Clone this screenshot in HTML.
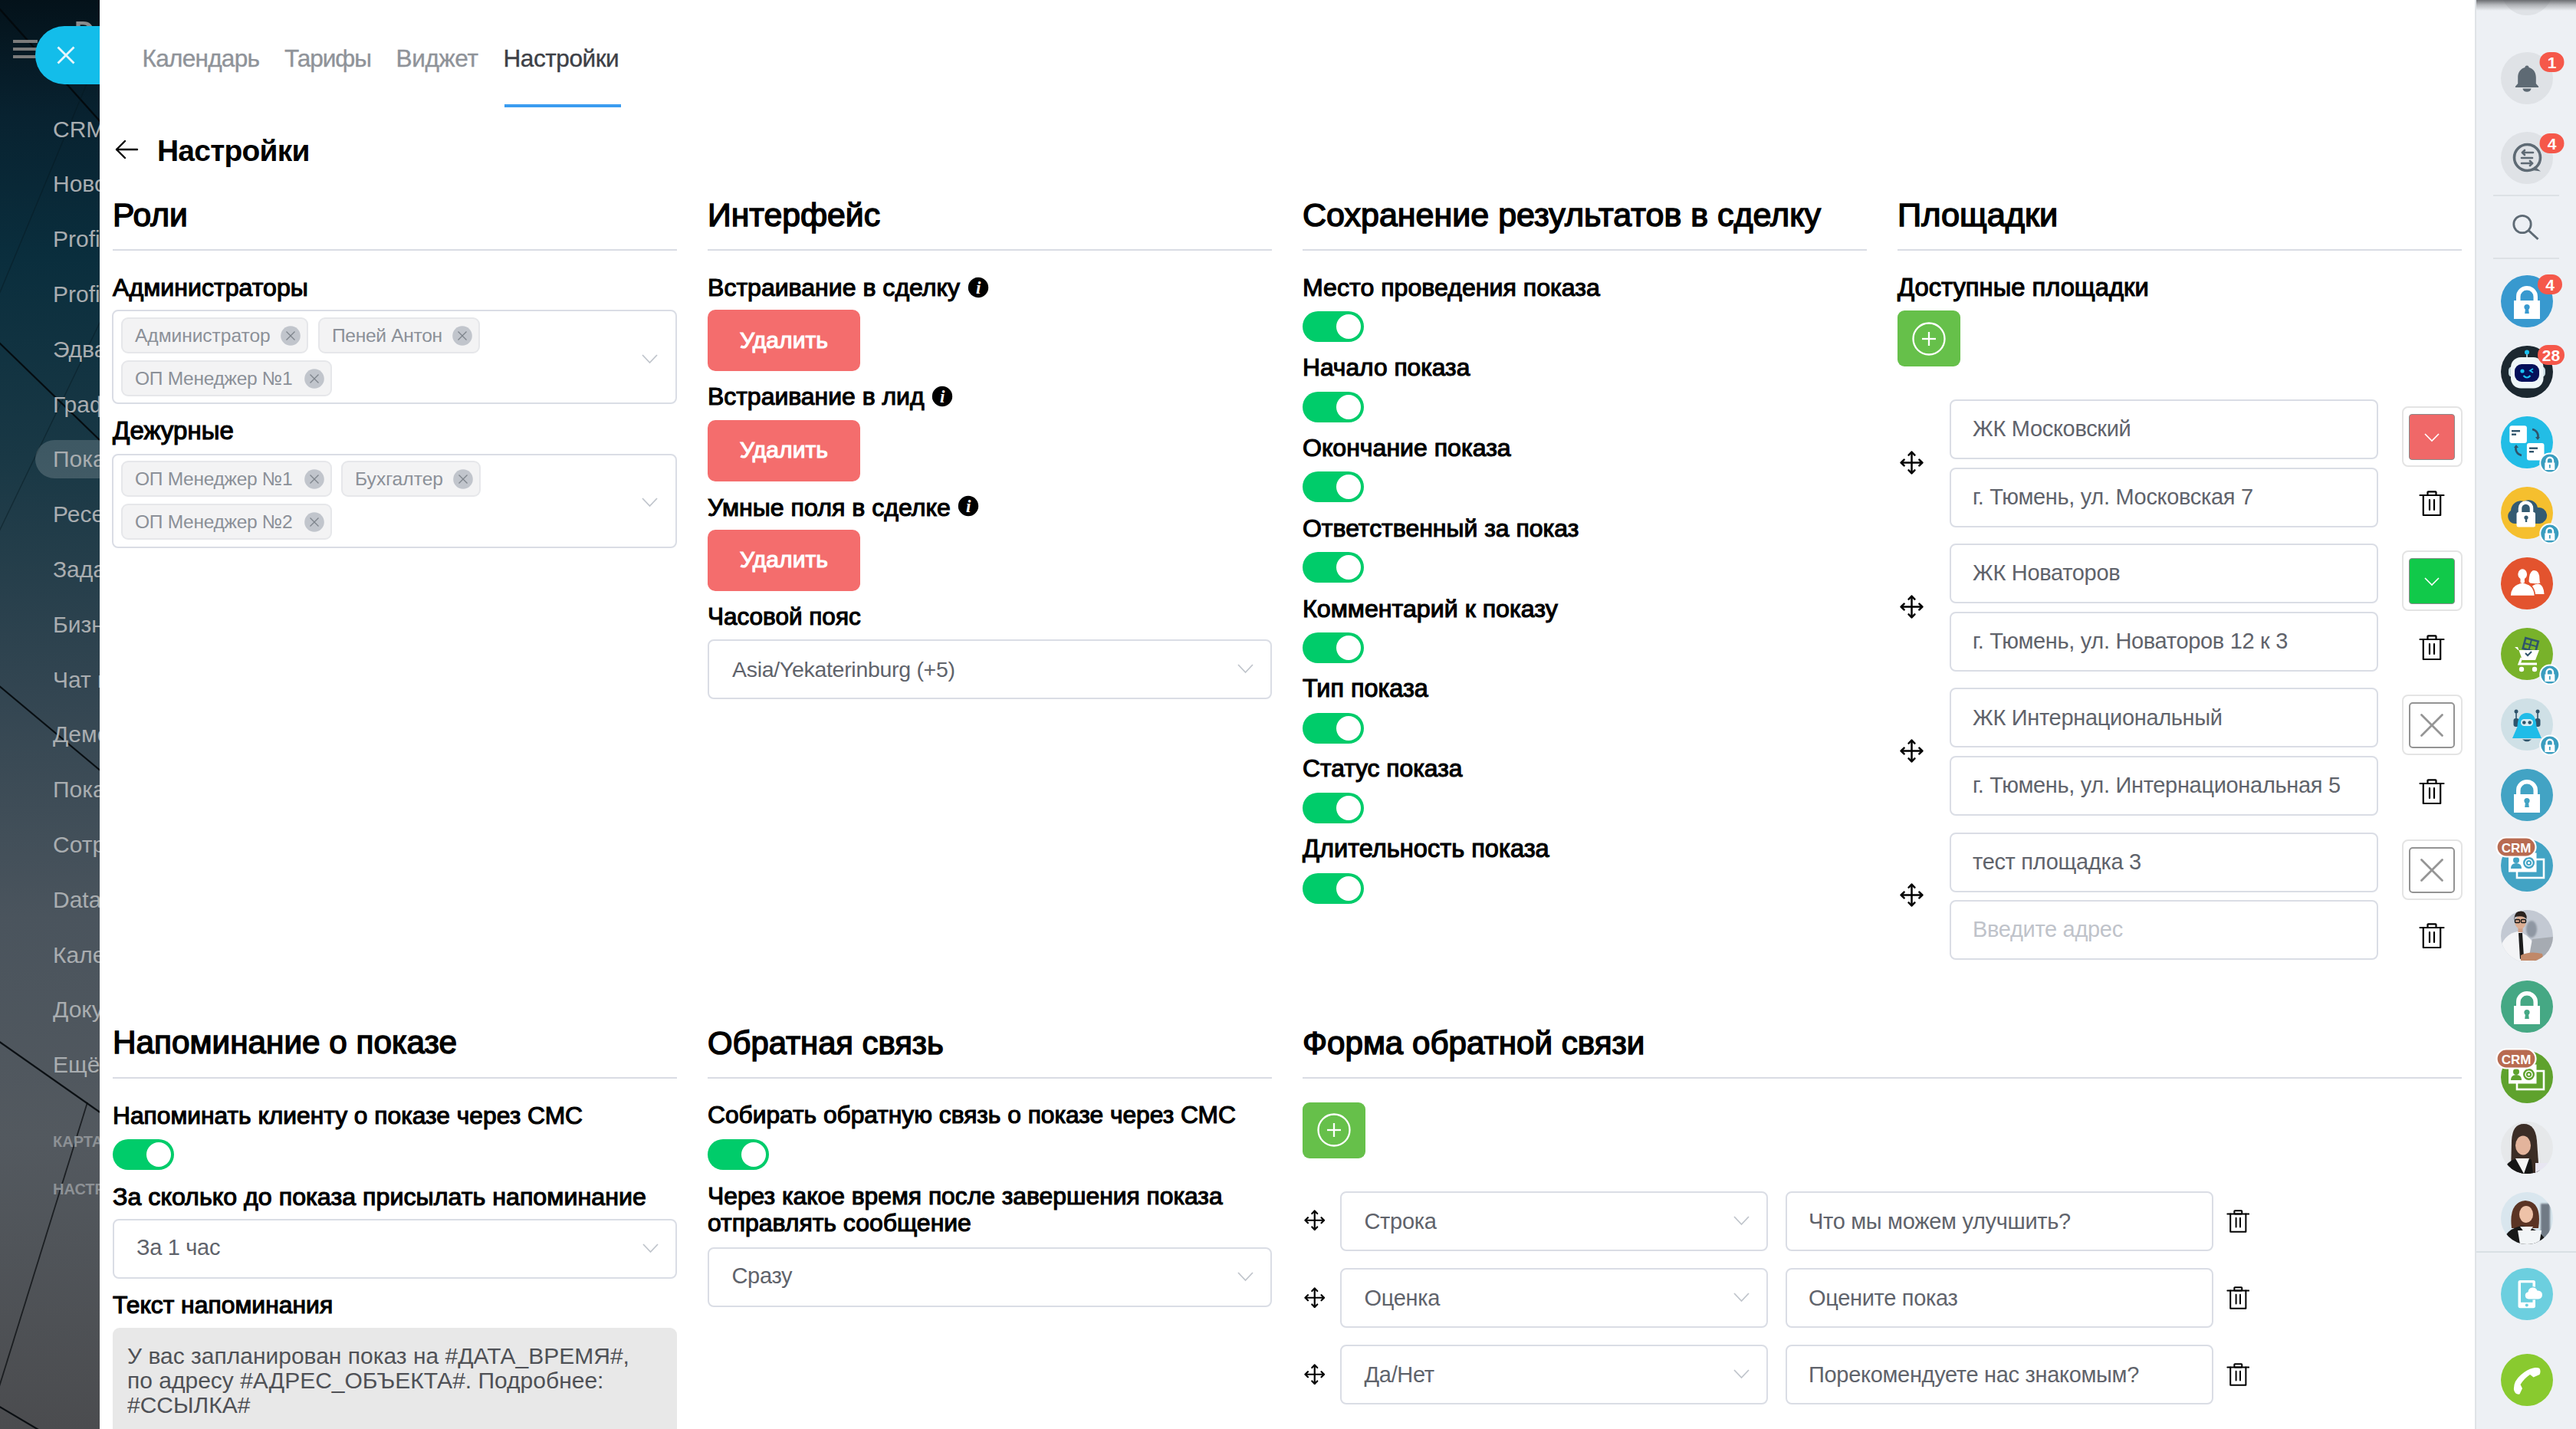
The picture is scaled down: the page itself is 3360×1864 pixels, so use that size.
<!DOCTYPE html>
<html><head><meta charset="utf-8"><title>Настройки</title><style>
html,body{margin:0;padding:0;}
body{width:3360px;height:1864px;overflow:hidden;position:relative;background:#fff;font-family:"Liberation Sans",sans-serif;}
.a{position:absolute;}
.t{position:absolute;white-space:nowrap;line-height:1;}
</style></head><body>
<div class="a" style="left:0;top:0;width:130px;height:1864px;overflow:hidden;background:linear-gradient(180deg,#04121a 0%,#082230 8%,#0a2e3d 18%,#193845 32%,#324551 48%,#4a545d 64%,#53595f 80%,#4b4c4f 100%)">
<svg class="a" style="left:0;top:0" width="130" height="1864"><g stroke="#03080b" stroke-width="2.2" fill="none" opacity="0.9"><line x1="-2" y1="10" x2="132" y2="160"/><line x1="-2" y1="446" x2="132" y2="576"/><line x1="-2" y1="894" x2="132" y2="1006"/><line x1="-2" y1="1358" x2="132" y2="1452"/><line x1="-2" y1="1834" x2="52" y2="1866"/></g><line x1="114" y1="1438" x2="-2" y2="1812" stroke="#0a0d10" stroke-width="1.8" opacity="0.75"/><g stroke="#071820" stroke-width="1.4" fill="none" opacity="0.45"><line x1="132" y1="64" x2="-2" y2="386"/><line x1="132" y1="417" x2="-2" y2="695"/></g></svg>
<div class="a" style="left:17px;top:52px;width:32px;height:4px;background:#7b7b7b"></div>
<div class="a" style="left:17px;top:62px;width:32px;height:4px;background:#7b7b7b"></div>
<div class="a" style="left:17px;top:72px;width:32px;height:4px;background:#7b7b7b"></div>
<div class="t" style="left:97px;top:23.5px;font-size:36px;font-weight:700;color:#8a8c8e;filter:blur(0.7px)">D</div>
<div class="a" style="left:46px;top:574px;width:120px;height:50px;border-radius:25px;background:rgba(255,255,255,0.17)"></div>
<div class="t" style="left:69px;top:153.6px;font-size:30px;font-weight:400;color:#a9adb0;">CRM</div>
<div class="t" style="left:69px;top:225.4px;font-size:30px;font-weight:400;color:#a9adb0;">Новости</div>
<div class="t" style="left:69px;top:297.2px;font-size:30px;font-weight:400;color:#a9adb0;">Profit</div>
<div class="t" style="left:69px;top:369.0px;font-size:30px;font-weight:400;color:#a9adb0;">Profit</div>
<div class="t" style="left:69px;top:440.8px;font-size:30px;font-weight:400;color:#a9adb0;">Эдвайзер</div>
<div class="t" style="left:69px;top:512.6px;font-size:30px;font-weight:400;color:#a9adb0;">График</div>
<div class="t" style="left:69px;top:584.4px;font-size:30px;font-weight:400;color:#a9adb0;">Показы</div>
<div class="t" style="left:69px;top:656.2px;font-size:30px;font-weight:400;color:#a9adb0;">Ресепшн</div>
<div class="t" style="left:69px;top:728.0px;font-size:30px;font-weight:400;color:#a9adb0;">Задачи</div>
<div class="t" style="left:69px;top:799.8px;font-size:30px;font-weight:400;color:#a9adb0;">Бизнес</div>
<div class="t" style="left:69px;top:871.6px;font-size:30px;font-weight:400;color:#a9adb0;">Чат и звонки</div>
<div class="t" style="left:69px;top:943.4px;font-size:30px;font-weight:400;color:#a9adb0;">Демо</div>
<div class="t" style="left:69px;top:1015.2px;font-size:30px;font-weight:400;color:#a9adb0;">Показы</div>
<div class="t" style="left:69px;top:1087.0px;font-size:30px;font-weight:400;color:#a9adb0;">Сотрудники</div>
<div class="t" style="left:69px;top:1158.8px;font-size:30px;font-weight:400;color:#a9adb0;">Data</div>
<div class="t" style="left:69px;top:1230.6px;font-size:30px;font-weight:400;color:#a9adb0;">Календарь</div>
<div class="t" style="left:69px;top:1302.4px;font-size:30px;font-weight:400;color:#a9adb0;">Документы</div>
<div class="t" style="left:69px;top:1374.2px;font-size:30px;font-weight:400;color:#a9adb0;">Ещё</div>
<div class="t" style="left:69px;top:1479.1px;font-size:20px;font-weight:700;color:#8d9195;">КАРТА</div>
<div class="t" style="left:69px;top:1541.1px;font-size:20px;font-weight:700;color:#8d9195;">НАСТРОЙКИ</div>
</div>
<div class="a" style="left:46px;top:34px;width:84px;height:76px;border-radius:38px 0 0 38px;background:#13bdea"></div>
<svg class="a" style="left:74px;top:60px" width="24" height="24"><g stroke="#e6f6fb" stroke-width="2.8"><line x1="1.5" y1="1.5" x2="22.5" y2="22.5"/><line x1="22.5" y1="1.5" x2="1.5" y2="22.5"/></g></svg>
<div class="t" style="left:185.5px;top:60.6px;font-size:31.6px;font-weight:400;color:#8f9399;letter-spacing:-0.75px;-webkit-text-stroke:0.35px #8f9399">Календарь</div>
<div class="t" style="left:371px;top:60.6px;font-size:31.6px;font-weight:400;color:#8f9399;letter-spacing:-1.1px;-webkit-text-stroke:0.35px #8f9399">Тарифы</div>
<div class="t" style="left:516.5px;top:60.6px;font-size:31.6px;font-weight:400;color:#8f9399;letter-spacing:-0.37px;-webkit-text-stroke:0.35px #8f9399">Виджет</div>
<div class="t" style="left:656.5px;top:60.6px;font-size:31.6px;font-weight:400;color:#3d4046;letter-spacing:-0.46px;-webkit-text-stroke:0.35px #3d4046">Настройки</div>
<div class="a" style="left:658px;top:136px;width:152px;height:4px;background:#3a9cf0"></div>
<svg class="a" style="left:148px;top:181px" width="34" height="28"><g fill="none" stroke="#000" stroke-width="2.4" stroke-linecap="round" stroke-linejoin="round"><line x1="4" y1="14" x2="31" y2="14"/><polyline points="15,3 4,14 15,25"/></g></svg>
<div class="t" style="left:205px;top:177.0px;font-size:39px;font-weight:700;color:#000;letter-spacing:-0.8px">Настройки</div>
<div class="t" style="left:147px;top:259.3px;font-size:42.54px;font-weight:400;color:#000;-webkit-text-stroke:1.5px #000;">Роли</div>
<div class="t" style="left:923px;top:259.1px;font-size:42.72px;font-weight:400;color:#000;-webkit-text-stroke:1.5px #000;">Интерфейс</div>
<div class="t" style="left:1699px;top:258.9px;font-size:43.02px;font-weight:400;color:#000;-webkit-text-stroke:1.5px #000;">Сохранение результатов в сделку</div>
<div class="t" style="left:2475px;top:258.6px;font-size:43.35px;font-weight:400;color:#000;-webkit-text-stroke:1.5px #000;">Площадки</div>
<div class="a" style="left:147px;top:325px;width:736px;height:2px;background:#d9dce4"></div>
<div class="a" style="left:923px;top:325px;width:736px;height:2px;background:#d9dce4"></div>
<div class="a" style="left:1699px;top:325px;width:736px;height:2px;background:#d9dce4"></div>
<div class="a" style="left:2475px;top:325px;width:736px;height:2px;background:#d9dce4"></div>
<div class="t" style="left:147px;top:359.1px;font-size:32.14px;font-weight:400;color:#000;-webkit-text-stroke:1.15px #000;">Администраторы</div>
<div class="a" style="left:146px;top:404px;width:737px;height:123px;box-sizing:border-box;border:2px solid #dadde5;border-radius:8px;background:#fff"></div>
<svg class="a" style="left:836.0px;top:460.5px" width="23" height="14"><polyline points="2,2 11.5,12 21,2" fill="none" stroke="#c0c5cc" stroke-width="1.8"/></svg>
<div class="a" style="left:158px;top:414.3px;width:244px;height:47px;box-sizing:border-box;border:2px solid #e6e7ea;border-radius:9px;background:#f3f3f4"></div>
<div class="t" style="left:176px;top:425.8px;font-size:24.6px;font-weight:400;color:#8b9098;letter-spacing:-0.06px">Администратор</div>
<svg class="a" style="left:366px;top:424.9px" width="26" height="26" viewBox="0 0 26 26"><circle cx="13" cy="13" r="12.8" fill="#c1c5cc"/><g stroke="#7e848c" stroke-width="1.3"><line x1="7.5" y1="7.5" x2="18.5" y2="18.5"/><line x1="18.5" y1="7.5" x2="7.5" y2="18.5"/></g></svg>
<div class="a" style="left:415px;top:414.3px;width:211px;height:47px;box-sizing:border-box;border:2px solid #e6e7ea;border-radius:9px;background:#f3f3f4"></div>
<div class="t" style="left:433px;top:425.8px;font-size:24.6px;font-weight:400;color:#8b9098;letter-spacing:-0.33px">Пеней Антон</div>
<svg class="a" style="left:590px;top:424.9px" width="26" height="26" viewBox="0 0 26 26"><circle cx="13" cy="13" r="12.8" fill="#c1c5cc"/><g stroke="#7e848c" stroke-width="1.3"><line x1="7.5" y1="7.5" x2="18.5" y2="18.5"/><line x1="18.5" y1="7.5" x2="7.5" y2="18.5"/></g></svg>
<div class="a" style="left:158px;top:470.3px;width:275px;height:47px;box-sizing:border-box;border:2px solid #e6e7ea;border-radius:9px;background:#f3f3f4"></div>
<div class="t" style="left:176px;top:481.8px;font-size:24.6px;font-weight:400;color:#8b9098;letter-spacing:-0.33px">ОП Менеджер №1</div>
<svg class="a" style="left:397px;top:480.9px" width="26" height="26" viewBox="0 0 26 26"><circle cx="13" cy="13" r="12.8" fill="#c1c5cc"/><g stroke="#7e848c" stroke-width="1.3"><line x1="7.5" y1="7.5" x2="18.5" y2="18.5"/><line x1="18.5" y1="7.5" x2="7.5" y2="18.5"/></g></svg>
<div class="t" style="left:147px;top:544.6px;font-size:33.05px;font-weight:400;color:#000;-webkit-text-stroke:1.15px #000;">Дежурные</div>
<div class="a" style="left:146px;top:591.5px;width:737px;height:123px;box-sizing:border-box;border:2px solid #dadde5;border-radius:8px;background:#fff"></div>
<svg class="a" style="left:836.0px;top:647.5px" width="23" height="14"><polyline points="2,2 11.5,12 21,2" fill="none" stroke="#c0c5cc" stroke-width="1.8"/></svg>
<div class="a" style="left:158px;top:601.3px;width:275px;height:47px;box-sizing:border-box;border:2px solid #e6e7ea;border-radius:9px;background:#f3f3f4"></div>
<div class="t" style="left:176px;top:612.8px;font-size:24.6px;font-weight:400;color:#8b9098;letter-spacing:-0.33px">ОП Менеджер №1</div>
<svg class="a" style="left:397px;top:611.9px" width="26" height="26" viewBox="0 0 26 26"><circle cx="13" cy="13" r="12.8" fill="#c1c5cc"/><g stroke="#7e848c" stroke-width="1.3"><line x1="7.5" y1="7.5" x2="18.5" y2="18.5"/><line x1="18.5" y1="7.5" x2="7.5" y2="18.5"/></g></svg>
<div class="a" style="left:445px;top:601.3px;width:182px;height:47px;box-sizing:border-box;border:2px solid #e6e7ea;border-radius:9px;background:#f3f3f4"></div>
<div class="t" style="left:463px;top:612.8px;font-size:24.6px;font-weight:400;color:#8b9098;letter-spacing:0px">Бухгалтер</div>
<svg class="a" style="left:591px;top:611.9px" width="26" height="26" viewBox="0 0 26 26"><circle cx="13" cy="13" r="12.8" fill="#c1c5cc"/><g stroke="#7e848c" stroke-width="1.3"><line x1="7.5" y1="7.5" x2="18.5" y2="18.5"/><line x1="18.5" y1="7.5" x2="7.5" y2="18.5"/></g></svg>
<div class="a" style="left:158px;top:657.3px;width:275px;height:47px;box-sizing:border-box;border:2px solid #e6e7ea;border-radius:9px;background:#f3f3f4"></div>
<div class="t" style="left:176px;top:668.8px;font-size:24.6px;font-weight:400;color:#8b9098;letter-spacing:-0.33px">ОП Менеджер №2</div>
<svg class="a" style="left:397px;top:667.9px" width="26" height="26" viewBox="0 0 26 26"><circle cx="13" cy="13" r="12.8" fill="#c1c5cc"/><g stroke="#7e848c" stroke-width="1.3"><line x1="7.5" y1="7.5" x2="18.5" y2="18.5"/><line x1="18.5" y1="7.5" x2="7.5" y2="18.5"/></g></svg>
<div class="t" style="left:923px;top:358.9px;font-size:32.05px;font-weight:400;color:#000;-webkit-text-stroke:1.15px #000;">Встраивание в сделку</div>
<svg class="a" style="left:1262px;top:360.7px" width="28" height="28" viewBox="0 0 28 28"><circle cx="14" cy="14" r="13.2" fill="#000"/><text x="14.3" y="22.2" text-anchor="middle" font-family="Liberation Serif" font-style="italic" font-weight="700" font-size="23" fill="#fff">i</text></svg>
<div class="a" style="left:923px;top:404px;width:199px;height:80px;border-radius:10px;background:#f46d6d"></div>
<div class="t" style="left:923px;top:428.5px;font-size:30.1px;font-weight:400;color:#fff;width:199px;text-align:center;-webkit-text-stroke:1.15px #fff">Удалить</div>
<div class="t" style="left:923px;top:502.4px;font-size:31.93px;font-weight:400;color:#000;-webkit-text-stroke:1.15px #000;">Встраивание в лид</div>
<svg class="a" style="left:1215px;top:503.29999999999995px" width="28" height="28" viewBox="0 0 28 28"><circle cx="14" cy="14" r="13.2" fill="#000"/><text x="14.3" y="22.2" text-anchor="middle" font-family="Liberation Serif" font-style="italic" font-weight="700" font-size="23" fill="#fff">i</text></svg>
<div class="a" style="left:923px;top:547.5px;width:199px;height:80px;border-radius:10px;background:#f46d6d"></div>
<div class="t" style="left:923px;top:572.0px;font-size:30.1px;font-weight:400;color:#fff;width:199px;text-align:center;-webkit-text-stroke:1.15px #fff">Удалить</div>
<div class="t" style="left:923px;top:645.6px;font-size:32.11px;font-weight:400;color:#000;-webkit-text-stroke:1.15px #000;">Умные поля в сделке</div>
<svg class="a" style="left:1248.7px;top:646.4px" width="28" height="28" viewBox="0 0 28 28"><circle cx="14" cy="14" r="13.2" fill="#000"/><text x="14.3" y="22.2" text-anchor="middle" font-family="Liberation Serif" font-style="italic" font-weight="700" font-size="23" fill="#fff">i</text></svg>
<div class="a" style="left:923px;top:690.5px;width:199px;height:80px;border-radius:10px;background:#f46d6d"></div>
<div class="t" style="left:923px;top:715.0px;font-size:30.1px;font-weight:400;color:#fff;width:199px;text-align:center;-webkit-text-stroke:1.15px #fff">Удалить</div>
<div class="t" style="left:923px;top:788.9px;font-size:31.49px;font-weight:400;color:#000;-webkit-text-stroke:1.15px #000;">Часовой пояс</div>
<div class="a" style="left:923px;top:834px;width:736px;height:78px;box-sizing:border-box;border:2px solid #dadde5;border-radius:8px;background:#fff"></div>
<div class="t" style="left:955px;top:859.1px;font-size:28.5px;font-weight:400;color:#5f636b;letter-spacing:-0.3px">Asia/Yekaterinburg (+5)</div>
<svg class="a" style="left:1612.5px;top:864.5px" width="23" height="14"><polyline points="2,2 11.5,12 21,2" fill="none" stroke="#c0c5cc" stroke-width="1.8"/></svg>
<div class="t" style="left:1699px;top:358.8px;font-size:32.13px;font-weight:400;color:#000;-webkit-text-stroke:1.15px #000;">Место проведения показа</div>
<div class="a" style="left:1699px;top:406.0px;width:80px;height:40px;border-radius:20px;background:#00cc6a"></div>
<div class="a" style="left:1743px;top:410.0px;width:32px;height:32px;border-radius:16px;background:#fff"></div>
<div class="t" style="left:1699px;top:463.8px;font-size:31.74px;font-weight:400;color:#000;-webkit-text-stroke:1.15px #000;">Начало показа</div>
<div class="a" style="left:1699px;top:510.7px;width:80px;height:40px;border-radius:20px;background:#00cc6a"></div>
<div class="a" style="left:1743px;top:514.7px;width:32px;height:32px;border-radius:16px;background:#fff"></div>
<div class="t" style="left:1699px;top:568.3px;font-size:32.07px;font-weight:400;color:#000;-webkit-text-stroke:1.15px #000;">Окончание показа</div>
<div class="a" style="left:1699px;top:615.4px;width:80px;height:40px;border-radius:20px;background:#00cc6a"></div>
<div class="a" style="left:1743px;top:619.4px;width:32px;height:32px;border-radius:16px;background:#fff"></div>
<div class="t" style="left:1699px;top:673.0px;font-size:31.98px;font-weight:400;color:#000;-webkit-text-stroke:1.15px #000;">Ответственный за показ</div>
<div class="a" style="left:1699px;top:720.1px;width:80px;height:40px;border-radius:20px;background:#00cc6a"></div>
<div class="a" style="left:1743px;top:724.1px;width:32px;height:32px;border-radius:16px;background:#fff"></div>
<div class="t" style="left:1699px;top:777.5px;font-size:32.2px;font-weight:400;color:#000;-webkit-text-stroke:1.15px #000;">Комментарий к показу</div>
<div class="a" style="left:1699px;top:824.8px;width:80px;height:40px;border-radius:20px;background:#00cc6a"></div>
<div class="a" style="left:1743px;top:828.8px;width:32px;height:32px;border-radius:16px;background:#fff"></div>
<div class="t" style="left:1699px;top:882.1px;font-size:32.36px;font-weight:400;color:#000;-webkit-text-stroke:1.15px #000;">Тип показа</div>
<div class="a" style="left:1699px;top:929.5px;width:80px;height:40px;border-radius:20px;background:#00cc6a"></div>
<div class="a" style="left:1743px;top:933.5px;width:32px;height:32px;border-radius:16px;background:#fff"></div>
<div class="t" style="left:1699px;top:987.3px;font-size:31.81px;font-weight:400;color:#000;-webkit-text-stroke:1.15px #000;">Статус показа</div>
<div class="a" style="left:1699px;top:1034.2px;width:80px;height:40px;border-radius:20px;background:#00cc6a"></div>
<div class="a" style="left:1743px;top:1038.2px;width:32px;height:32px;border-radius:16px;background:#fff"></div>
<div class="t" style="left:1699px;top:1091.3px;font-size:32.59px;font-weight:400;color:#000;-webkit-text-stroke:1.15px #000;">Длительность показа</div>
<div class="a" style="left:1699px;top:1138.9px;width:80px;height:40px;border-radius:20px;background:#00cc6a"></div>
<div class="a" style="left:1743px;top:1142.9px;width:32px;height:32px;border-radius:16px;background:#fff"></div>
<div class="t" style="left:2475px;top:359.3px;font-size:32.74px;font-weight:400;color:#000;-webkit-text-stroke:1.15px #000;">Доступные площадки</div>
<div class="a" style="left:2475px;top:405px;width:82px;height:73px;border-radius:9px;background:#66c04a"></div>
<svg class="a" style="left:2492px;top:417.5px" width="48" height="48" viewBox="0 0 48 48"><g fill="none" stroke="#fff" stroke-width="2.3"><circle cx="24" cy="24" r="20.5"/><line x1="24" y1="15" x2="24" y2="33"/><line x1="15" y1="24" x2="33" y2="24"/></g></svg>
<div class="a" style="left:2543px;top:521.0px;width:559px;height:78px;box-sizing:border-box;border:2px solid #dadde5;border-radius:8px;background:#fff"></div>
<div class="t" style="left:2573px;top:545.2px;font-size:29px;font-weight:400;color:#5f636b;letter-spacing:-0.32px">ЖК Московский</div>
<div class="a" style="left:2543px;top:609.5px;width:559px;height:78px;box-sizing:border-box;border:2px solid #dadde5;border-radius:8px;background:#fff"></div>
<div class="t" style="left:2573px;top:633.7px;font-size:29px;font-weight:400;color:#5f636b;letter-spacing:-0.32px">г. Тюмень, ул. Московская 7</div>
<svg class="a" style="left:2477.5px;top:587.5px" width="31" height="31" viewBox="0 0 31 31"><g fill="none" stroke="#000" stroke-width="2.5" stroke-linecap="round" stroke-linejoin="round"><line x1="15.5" y1="2" x2="15.5" y2="29"/><line x1="2" y1="15.5" x2="29" y2="15.5"/><polyline points="11.6,5.6 15.5,1.7 19.4,5.6"/><polyline points="11.6,25.4 15.5,29.3 19.4,25.4"/><polyline points="5.6,11.6 1.7,15.5 5.6,19.4"/><polyline points="25.4,11.6 29.3,15.5 25.4,19.4"/></g></svg>
<div class="a" style="left:3132.5px;top:530.0px;width:79px;height:79px;box-sizing:border-box;border:2px solid #e4e4e4;border-radius:8px;background:#fff"></div>
<div class="a" style="left:3142px;top:540.0px;width:60px;height:60px;box-sizing:border-box;border:1.5px solid #8a8a8a;border-radius:4px;background:#f06868"></div>
<svg class="a" style="left:3161.0px;top:563.5px" width="22" height="13"><polyline points="2,2 11.0,11 20,2" fill="none" stroke="#fff" stroke-width="1.6"/></svg>
<svg class="a" style="left:3155.0px;top:639.5px" width="34.0" height="34.0" viewBox="0 0 34 34"><g fill="none" stroke="#000" stroke-width="2.2" stroke-linejoin="round" stroke-linecap="round"><line x1="1.5" y1="6" x2="32.5" y2="6"/><rect x="11.5" y="1.3" width="11" height="4.7" rx="0.8"/><path d="M5.8 6 V32 H28.2 V6"/><line x1="14" y1="12" x2="14" y2="25"/><line x1="20" y1="12" x2="20" y2="25"/></g></svg>
<div class="a" style="left:2543px;top:709.2px;width:559px;height:78px;box-sizing:border-box;border:2px solid #dadde5;border-radius:8px;background:#fff"></div>
<div class="t" style="left:2573px;top:733.4px;font-size:29px;font-weight:400;color:#5f636b;letter-spacing:-0.32px">ЖК Новаторов</div>
<div class="a" style="left:2543px;top:797.7px;width:559px;height:78px;box-sizing:border-box;border:2px solid #dadde5;border-radius:8px;background:#fff"></div>
<div class="t" style="left:2573px;top:821.9px;font-size:29px;font-weight:400;color:#5f636b;letter-spacing:-0.32px">г. Тюмень, ул. Новаторов 12 к 3</div>
<svg class="a" style="left:2477.5px;top:775.7px" width="31" height="31" viewBox="0 0 31 31"><g fill="none" stroke="#000" stroke-width="2.5" stroke-linecap="round" stroke-linejoin="round"><line x1="15.5" y1="2" x2="15.5" y2="29"/><line x1="2" y1="15.5" x2="29" y2="15.5"/><polyline points="11.6,5.6 15.5,1.7 19.4,5.6"/><polyline points="11.6,25.4 15.5,29.3 19.4,25.4"/><polyline points="5.6,11.6 1.7,15.5 5.6,19.4"/><polyline points="25.4,11.6 29.3,15.5 25.4,19.4"/></g></svg>
<div class="a" style="left:3132.5px;top:718.2px;width:79px;height:79px;box-sizing:border-box;border:2px solid #e4e4e4;border-radius:8px;background:#fff"></div>
<div class="a" style="left:3142px;top:728.2px;width:60px;height:60px;box-sizing:border-box;border:1.5px solid #8a8a8a;border-radius:4px;background:#11c94a"></div>
<svg class="a" style="left:3161.0px;top:751.7px" width="22" height="13"><polyline points="2,2 11.0,11 20,2" fill="none" stroke="#fff" stroke-width="1.6"/></svg>
<svg class="a" style="left:3155.0px;top:827.7px" width="34.0" height="34.0" viewBox="0 0 34 34"><g fill="none" stroke="#000" stroke-width="2.2" stroke-linejoin="round" stroke-linecap="round"><line x1="1.5" y1="6" x2="32.5" y2="6"/><rect x="11.5" y="1.3" width="11" height="4.7" rx="0.8"/><path d="M5.8 6 V32 H28.2 V6"/><line x1="14" y1="12" x2="14" y2="25"/><line x1="20" y1="12" x2="20" y2="25"/></g></svg>
<div class="a" style="left:2543px;top:897.4px;width:559px;height:78px;box-sizing:border-box;border:2px solid #dadde5;border-radius:8px;background:#fff"></div>
<div class="t" style="left:2573px;top:921.6px;font-size:29px;font-weight:400;color:#5f636b;letter-spacing:-0.32px">ЖК Интернациональный</div>
<div class="a" style="left:2543px;top:985.9px;width:559px;height:78px;box-sizing:border-box;border:2px solid #dadde5;border-radius:8px;background:#fff"></div>
<div class="t" style="left:2573px;top:1010.1px;font-size:29px;font-weight:400;color:#5f636b;letter-spacing:-0.32px">г. Тюмень, ул. Интернациональная 5</div>
<svg class="a" style="left:2477.5px;top:963.9px" width="31" height="31" viewBox="0 0 31 31"><g fill="none" stroke="#000" stroke-width="2.5" stroke-linecap="round" stroke-linejoin="round"><line x1="15.5" y1="2" x2="15.5" y2="29"/><line x1="2" y1="15.5" x2="29" y2="15.5"/><polyline points="11.6,5.6 15.5,1.7 19.4,5.6"/><polyline points="11.6,25.4 15.5,29.3 19.4,25.4"/><polyline points="5.6,11.6 1.7,15.5 5.6,19.4"/><polyline points="25.4,11.6 29.3,15.5 25.4,19.4"/></g></svg>
<div class="a" style="left:3132.5px;top:906.4px;width:79px;height:79px;box-sizing:border-box;border:2px solid #e4e4e4;border-radius:8px;background:#fff"></div>
<div class="a" style="left:3142px;top:916.4px;width:60px;height:60px;box-sizing:border-box;border:2px solid #939393;border-radius:5px;background:#fff"></div>
<svg class="a" style="left:3142px;top:916.4px" width="60" height="60"><g stroke="#959595" stroke-width="2.8" stroke-linecap="round"><line x1="16.5" y1="16.5" x2="43.5" y2="43.5"/><line x1="43.5" y1="16.5" x2="16.5" y2="43.5"/></g></svg>
<svg class="a" style="left:3155.0px;top:1015.9px" width="34.0" height="34.0" viewBox="0 0 34 34"><g fill="none" stroke="#000" stroke-width="2.2" stroke-linejoin="round" stroke-linecap="round"><line x1="1.5" y1="6" x2="32.5" y2="6"/><rect x="11.5" y="1.3" width="11" height="4.7" rx="0.8"/><path d="M5.8 6 V32 H28.2 V6"/><line x1="14" y1="12" x2="14" y2="25"/><line x1="20" y1="12" x2="20" y2="25"/></g></svg>
<div class="a" style="left:2543px;top:1085.6px;width:559px;height:78px;box-sizing:border-box;border:2px solid #dadde5;border-radius:8px;background:#fff"></div>
<div class="t" style="left:2573px;top:1109.8px;font-size:29px;font-weight:400;color:#5f636b;letter-spacing:-0.32px">тест площадка 3</div>
<div class="a" style="left:2543px;top:1174.1px;width:559px;height:78px;box-sizing:border-box;border:2px solid #dadde5;border-radius:8px;background:#fff"></div>
<div class="t" style="left:2573px;top:1198.3px;font-size:29px;font-weight:400;color:#bfc3ca;letter-spacing:-0.32px">Введите адрес</div>
<svg class="a" style="left:2477.5px;top:1152.1px" width="31" height="31" viewBox="0 0 31 31"><g fill="none" stroke="#000" stroke-width="2.5" stroke-linecap="round" stroke-linejoin="round"><line x1="15.5" y1="2" x2="15.5" y2="29"/><line x1="2" y1="15.5" x2="29" y2="15.5"/><polyline points="11.6,5.6 15.5,1.7 19.4,5.6"/><polyline points="11.6,25.4 15.5,29.3 19.4,25.4"/><polyline points="5.6,11.6 1.7,15.5 5.6,19.4"/><polyline points="25.4,11.6 29.3,15.5 25.4,19.4"/></g></svg>
<div class="a" style="left:3132.5px;top:1094.6px;width:79px;height:79px;box-sizing:border-box;border:2px solid #e4e4e4;border-radius:8px;background:#fff"></div>
<div class="a" style="left:3142px;top:1104.6px;width:60px;height:60px;box-sizing:border-box;border:2px solid #939393;border-radius:5px;background:#fff"></div>
<svg class="a" style="left:3142px;top:1104.6px" width="60" height="60"><g stroke="#959595" stroke-width="2.8" stroke-linecap="round"><line x1="16.5" y1="16.5" x2="43.5" y2="43.5"/><line x1="43.5" y1="16.5" x2="16.5" y2="43.5"/></g></svg>
<svg class="a" style="left:3155.0px;top:1204.1px" width="34.0" height="34.0" viewBox="0 0 34 34"><g fill="none" stroke="#000" stroke-width="2.2" stroke-linejoin="round" stroke-linecap="round"><line x1="1.5" y1="6" x2="32.5" y2="6"/><rect x="11.5" y="1.3" width="11" height="4.7" rx="0.8"/><path d="M5.8 6 V32 H28.2 V6"/><line x1="14" y1="12" x2="14" y2="25"/><line x1="20" y1="12" x2="20" y2="25"/></g></svg>
<div class="t" style="left:147px;top:1339.2px;font-size:42.3px;font-weight:400;color:#000;-webkit-text-stroke:1.5px #000;">Напоминание о показе</div>
<div class="t" style="left:923px;top:1339.6px;font-size:41.78px;font-weight:400;color:#000;-webkit-text-stroke:1.5px #000;">Обратная связь</div>
<div class="t" style="left:1699px;top:1339.8px;font-size:42.13px;font-weight:400;color:#000;-webkit-text-stroke:1.5px #000;">Форма обратной связи</div>
<div class="a" style="left:147px;top:1405px;width:736px;height:2px;background:#d9dce4"></div>
<div class="a" style="left:923px;top:1405px;width:736px;height:2px;background:#d9dce4"></div>
<div class="a" style="left:1699px;top:1405px;width:1512px;height:2px;background:#d9dce4"></div>
<div class="t" style="left:147px;top:1439.6px;font-size:31.77px;font-weight:400;color:#000;-webkit-text-stroke:1.15px #000;">Напоминать клиенту о показе через СМС</div>
<div class="a" style="left:147px;top:1486px;width:80px;height:40px;border-radius:20px;background:#00cc6a"></div>
<div class="a" style="left:191px;top:1490px;width:32px;height:32px;border-radius:16px;background:#fff"></div>
<div class="t" style="left:147px;top:1545.0px;font-size:32.23px;font-weight:400;color:#000;-webkit-text-stroke:1.15px #000;">За сколько до показа присылать напоминание</div>
<div class="a" style="left:147px;top:1590px;width:736px;height:78px;box-sizing:border-box;border:2px solid #dadde5;border-radius:8px;background:#fff"></div>
<div class="t" style="left:178px;top:1613.3px;font-size:29px;font-weight:400;color:#5f636b;letter-spacing:-0.32px">За 1 час</div>
<svg class="a" style="left:836.5px;top:1620.5px" width="23" height="14"><polyline points="2,2 11.5,12 21,2" fill="none" stroke="#c0c5cc" stroke-width="1.8"/></svg>
<div class="t" style="left:147px;top:1687.4px;font-size:31.89px;font-weight:400;color:#000;-webkit-text-stroke:1.15px #000;">Текст напоминания</div>
<div class="a" style="left:147px;top:1732px;width:736px;height:180px;border-radius:9px;background:#e8e8e8"></div>
<div class="a" style="left:166px;top:1753px;width:700px;font-size:30px;line-height:32px;color:#4f5156">У вас запланирован показ на #ДАТА_ВРЕМЯ#,<br>по адресу #АДРЕС_ОБЪЕКТА#. Подробнее:<br>#ССЫЛКА#</div>
<div class="t" style="left:923px;top:1438.8px;font-size:31.72px;font-weight:400;color:#000;-webkit-text-stroke:1.15px #000;">Собирать обратную связь о показе через СМС</div>
<div class="a" style="left:923px;top:1486px;width:80px;height:40px;border-radius:20px;background:#00cc6a"></div>
<div class="a" style="left:967px;top:1490px;width:32px;height:32px;border-radius:16px;background:#fff"></div>
<div class="t" style="left:923px;top:1544.6px;font-size:31.8px;font-weight:400;color:#000;-webkit-text-stroke:1.15px #000;">Через какое время после завершения показа</div>
<div class="t" style="left:923px;top:1580.0px;font-size:31.95px;font-weight:400;color:#000;-webkit-text-stroke:1.15px #000;">отправлять сообщение</div>
<div class="a" style="left:923px;top:1627px;width:736px;height:78px;box-sizing:border-box;border:2px solid #dadde5;border-radius:8px;background:#fff"></div>
<div class="t" style="left:954.5px;top:1650.4px;font-size:29px;font-weight:400;color:#5f636b;letter-spacing:-0.32px">Сразу</div>
<svg class="a" style="left:1612.5px;top:1657.5px" width="23" height="14"><polyline points="2,2 11.5,12 21,2" fill="none" stroke="#c0c5cc" stroke-width="1.8"/></svg>
<div class="a" style="left:1699px;top:1437.5px;width:82px;height:73px;border-radius:9px;background:#66c04a"></div>
<svg class="a" style="left:1716px;top:1450.0px" width="48" height="48" viewBox="0 0 48 48"><g fill="none" stroke="#fff" stroke-width="2.3"><circle cx="24" cy="24" r="20.5"/><line x1="24" y1="15" x2="24" y2="33"/><line x1="15" y1="24" x2="33" y2="24"/></g></svg>
<svg class="a" style="left:1701.2px;top:1578.2px" width="27.5" height="27.5" viewBox="0 0 31 31"><g fill="none" stroke="#000" stroke-width="2.5" stroke-linecap="round" stroke-linejoin="round"><line x1="15.5" y1="2" x2="15.5" y2="29"/><line x1="2" y1="15.5" x2="29" y2="15.5"/><polyline points="11.6,5.6 15.5,1.7 19.4,5.6"/><polyline points="11.6,25.4 15.5,29.3 19.4,25.4"/><polyline points="5.6,11.6 1.7,15.5 5.6,19.4"/><polyline points="25.4,11.6 29.3,15.5 25.4,19.4"/></g></svg>
<div class="a" style="left:1748px;top:1554.0px;width:558px;height:78px;box-sizing:border-box;border:2px solid #dadde5;border-radius:8px;background:#fff"></div>
<div class="t" style="left:1779.5px;top:1578.7px;font-size:29px;font-weight:400;color:#5f636b;letter-spacing:-0.32px">Строка</div>
<svg class="a" style="left:2259.5px;top:1584.5px" width="23" height="14"><polyline points="2,2 11.5,12 21,2" fill="none" stroke="#c0c5cc" stroke-width="1.8"/></svg>
<div class="a" style="left:2328.5px;top:1554.0px;width:558px;height:78px;box-sizing:border-box;border:2px solid #dadde5;border-radius:8px;background:#fff"></div>
<div class="t" style="left:2359px;top:1578.7px;font-size:29px;font-weight:400;color:#5f636b;letter-spacing:-0.32px">Что мы можем улучшить?</div>
<svg class="a" style="left:2903.7px;top:1577.7px" width="30.6" height="30.6" viewBox="0 0 34 34"><g fill="none" stroke="#000" stroke-width="2.2" stroke-linejoin="round" stroke-linecap="round"><line x1="1.5" y1="6" x2="32.5" y2="6"/><rect x="11.5" y="1.3" width="11" height="4.7" rx="0.8"/><path d="M5.8 6 V32 H28.2 V6"/><line x1="14" y1="12" x2="14" y2="25"/><line x1="20" y1="12" x2="20" y2="25"/></g></svg>
<svg class="a" style="left:1701.2px;top:1678.5px" width="27.5" height="27.5" viewBox="0 0 31 31"><g fill="none" stroke="#000" stroke-width="2.5" stroke-linecap="round" stroke-linejoin="round"><line x1="15.5" y1="2" x2="15.5" y2="29"/><line x1="2" y1="15.5" x2="29" y2="15.5"/><polyline points="11.6,5.6 15.5,1.7 19.4,5.6"/><polyline points="11.6,25.4 15.5,29.3 19.4,25.4"/><polyline points="5.6,11.6 1.7,15.5 5.6,19.4"/><polyline points="25.4,11.6 29.3,15.5 25.4,19.4"/></g></svg>
<div class="a" style="left:1748px;top:1654.2px;width:558px;height:78px;box-sizing:border-box;border:2px solid #dadde5;border-radius:8px;background:#fff"></div>
<div class="t" style="left:1779.5px;top:1678.9px;font-size:29px;font-weight:400;color:#5f636b;letter-spacing:-0.32px">Оценка</div>
<svg class="a" style="left:2259.5px;top:1684.7px" width="23" height="14"><polyline points="2,2 11.5,12 21,2" fill="none" stroke="#c0c5cc" stroke-width="1.8"/></svg>
<div class="a" style="left:2328.5px;top:1654.2px;width:558px;height:78px;box-sizing:border-box;border:2px solid #dadde5;border-radius:8px;background:#fff"></div>
<div class="t" style="left:2359px;top:1678.9px;font-size:29px;font-weight:400;color:#5f636b;letter-spacing:-0.32px">Оцените показ</div>
<svg class="a" style="left:2903.7px;top:1677.9px" width="30.6" height="30.6" viewBox="0 0 34 34"><g fill="none" stroke="#000" stroke-width="2.2" stroke-linejoin="round" stroke-linecap="round"><line x1="1.5" y1="6" x2="32.5" y2="6"/><rect x="11.5" y="1.3" width="11" height="4.7" rx="0.8"/><path d="M5.8 6 V32 H28.2 V6"/><line x1="14" y1="12" x2="14" y2="25"/><line x1="20" y1="12" x2="20" y2="25"/></g></svg>
<svg class="a" style="left:1701.2px;top:1778.7px" width="27.5" height="27.5" viewBox="0 0 31 31"><g fill="none" stroke="#000" stroke-width="2.5" stroke-linecap="round" stroke-linejoin="round"><line x1="15.5" y1="2" x2="15.5" y2="29"/><line x1="2" y1="15.5" x2="29" y2="15.5"/><polyline points="11.6,5.6 15.5,1.7 19.4,5.6"/><polyline points="11.6,25.4 15.5,29.3 19.4,25.4"/><polyline points="5.6,11.6 1.7,15.5 5.6,19.4"/><polyline points="25.4,11.6 29.3,15.5 25.4,19.4"/></g></svg>
<div class="a" style="left:1748px;top:1754.4px;width:558px;height:78px;box-sizing:border-box;border:2px solid #dadde5;border-radius:8px;background:#fff"></div>
<div class="t" style="left:1779.5px;top:1779.1px;font-size:29px;font-weight:400;color:#5f636b;letter-spacing:-0.32px">Да/Нет</div>
<svg class="a" style="left:2259.5px;top:1784.9px" width="23" height="14"><polyline points="2,2 11.5,12 21,2" fill="none" stroke="#c0c5cc" stroke-width="1.8"/></svg>
<div class="a" style="left:2328.5px;top:1754.4px;width:558px;height:78px;box-sizing:border-box;border:2px solid #dadde5;border-radius:8px;background:#fff"></div>
<div class="t" style="left:2359px;top:1779.1px;font-size:29px;font-weight:400;color:#5f636b;letter-spacing:-0.32px">Порекомендуете нас знакомым?</div>
<svg class="a" style="left:2903.7px;top:1778.1px" width="30.6" height="30.6" viewBox="0 0 34 34"><g fill="none" stroke="#000" stroke-width="2.2" stroke-linejoin="round" stroke-linecap="round"><line x1="1.5" y1="6" x2="32.5" y2="6"/><rect x="11.5" y="1.3" width="11" height="4.7" rx="0.8"/><path d="M5.8 6 V32 H28.2 V6"/><line x1="14" y1="12" x2="14" y2="25"/><line x1="20" y1="12" x2="20" y2="25"/></g></svg>
<div class="a" style="left:3228px;top:0;width:132px;height:1864px;background:#edf0f4;border-left:2px solid #dfe3e7;box-sizing:border-box"></div>
<svg class="a" style="left:3228px;top:0" width="132" height="1864" viewBox="3228 0 132 1864"><defs><linearGradient id="shd" x1="0" y1="0" x2="0" y2="1"><stop offset="0" stop-color="#505256" stop-opacity="0.82"/><stop offset="0.45" stop-color="#505256" stop-opacity="0.35"/><stop offset="1" stop-color="#505256" stop-opacity="0"/></linearGradient><clipPath id="p1"><circle cx="3296" cy="1221" r="34"/></clipPath><clipPath id="p2"><circle cx="3296" cy="1497" r="34"/></clipPath><clipPath id="p3"><circle cx="3296" cy="1589" r="34"/></clipPath><filter id="bl"><feGaussianBlur stdDeviation="1.2"/></filter></defs><circle cx="3296" cy="-14" r="34" fill="#dfe2e6"/><rect x="3230" y="0" width="130" height="14" fill="url(#shd)"/><circle cx="3296" cy="102" r="34" fill="#dfe2e6"/><path d="M3296 85.5 c1.6 0 2.6 1 2.6 2.6 c6 1.6 9.2 6.6 9.2 13 v8 l3.3 3.6 v1.3 h-30.2 v-1.3 l3.3 -3.6 v-8 c0 -6.4 3.2 -11.4 9.2 -13 c0 -1.6 1 -2.6 2.6 -2.6 z" fill="#5e6a74"/><path d="M3290.5 115.5 a5.5 4.2 0 0 0 11 0 z" fill="#5e6a74"/><rect x="3312.5" y="68" width="32" height="26" rx="13" fill="#f5584a"/><text x="3328.5" y="88.5" text-anchor="middle" font-family="Liberation Sans" font-weight="700" font-size="21" fill="#fff">1</text><circle cx="3296" cy="206" r="34" fill="#dfe2e6"/><circle cx="3296.5" cy="205.5" r="17" fill="none" stroke="#5e6a74" stroke-width="3.6"/><path d="M3306 217 L3314 223.5 L3303 222 Z" fill="#5e6a74"/><g stroke="#5e6a74" stroke-width="2.6" fill="none" stroke-linecap="round" stroke-linejoin="round"><line x1="3290" y1="199" x2="3304" y2="199"/><polyline points="3293,196 3290,199 3293,202"/><line x1="3289" y1="206" x2="3303" y2="206"/><line x1="3289" y1="213" x2="3303" y2="213"/><polyline points="3300,210 3303,213 3300,216"/></g><rect x="3312.5" y="174" width="32" height="26" rx="13" fill="#f5584a"/><text x="3328.5" y="194.5" text-anchor="middle" font-family="Liberation Sans" font-weight="700" font-size="21" fill="#fff">4</text><rect x="3252" y="254" width="86" height="2" fill="#dde1e5"/><circle cx="3290" cy="292.5" r="11.2" fill="none" stroke="#5e6a74" stroke-width="2.8"/><line x1="3298" y1="300.5" x2="3310.5" y2="312" stroke="#5e6a74" stroke-width="3"/><rect x="3252" y="336" width="86" height="2" fill="#dde1e5"/><circle cx="3296" cy="393" r="34" fill="#3899cf"/><g transform="translate(3296,393) scale(1.0)"><path d="M-11.25 1 V-6 A11.25 11.25 0 0 1 11.25 -6 V1" fill="none" stroke="#fff" stroke-width="5.5"/><rect x="-17" y="-1" width="34" height="24" fill="#fff"/><circle cx="0" cy="7.5" r="3.6" fill="#3899cf"/><path d="M-1.8 8 L-2.8 16 L2.8 16 L1.8 8 Z" fill="#3899cf"/></g><rect x="3310.0" y="358" width="32" height="26" rx="13" fill="#f5584a"/><text x="3326" y="378.5" text-anchor="middle" font-family="Liberation Sans" font-weight="700" font-size="21" fill="#fff">4</text><circle cx="3296" cy="485" r="34" fill="#1c2830"/><line x1="3296" y1="460" x2="3296" y2="468" stroke="#cfe3ea" stroke-width="1.6"/><circle cx="3296" cy="459.5" r="3" fill="#19c2f2"/><rect x="3272" y="478" width="48" height="14" rx="5" fill="#c9dce2"/><rect x="3275" y="466" width="42.5" height="40.5" rx="13" fill="#eef6f8"/><rect x="3280" y="475" width="32" height="23" rx="9" fill="#04105a"/><circle cx="3290" cy="484" r="2.6" fill="#19c2f2"/><polyline points="3304,481 3300,483.5 3304,486" fill="none" stroke="#19c2f2" stroke-width="1.8"/><path d="M3291.5 490 Q3296 495 3300.5 490" fill="none" stroke="#19c2f2" stroke-width="2.2"/><rect x="3310.0" y="450" width="35" height="26" rx="13" fill="#f5584a"/><text x="3327.5" y="470.5" text-anchor="middle" font-family="Liberation Sans" font-weight="700" font-size="21" fill="#fff">28</text><circle cx="3296" cy="577" r="34" fill="#22bde6"/><rect x="3273.3" y="555.3" width="22.6" height="22.6" rx="3" fill="#fff"/><rect x="3295.9" y="578" width="22.6" height="22.5" rx="3" fill="#fff"/><g fill="#2f546b"><rect x="3276" y="561" width="11" height="2.4"/><rect x="3276" y="565.5" width="6" height="2.4"/><rect x="3299" y="583.5" width="11" height="2.4"/><rect x="3299" y="588" width="6" height="2.4"/></g><g fill="none" stroke="#2f546b" stroke-width="2.6"><path d="M3303 560 A9 9 0 0 1 3310 572"/><path d="M3289 594 A9 9 0 0 1 3282 582"/></g><path d="M3307 570 L3313 570 L3310 574 Z" fill="#2f546b"/><path d="M3279 584 L3285 584 L3282 580 Z" fill="#2f546b"/><circle cx="3325.8" cy="604" r="13.5" fill="#fff"/><circle cx="3325.8" cy="604" r="11.5" fill="#3a9dbf"/><g transform="translate(3325.8,604)"><path d="M-4.2 0 V-3 A4.2 4.2 0 0 1 4.2 -3 V0" fill="none" stroke="#fff" stroke-width="2.4"/><rect x="-6.5" y="-0.5" width="13" height="9.5" fill="#fff"/><rect x="-0.9" y="2" width="1.8" height="4.5" fill="#3a9dbf"/></g><circle cx="3296" cy="669" r="34" fill="#f5bf2e"/><path d="M3280 683 A9.5 9.5 0 0 1 3275 666 A13 13 0 0 1 3292 654 A12 12 0 0 1 3310 662 A10.5 10.5 0 0 1 3313 683 Z" fill="#345b72"/><path d="M3287 669 V663 A7.5 7.5 0 0 1 3302 663 V669" fill="none" stroke="#fff" stroke-width="4.5"/><rect x="3282.5" y="668" width="24.5" height="19.5" rx="2.5" fill="#fff"/><circle cx="3295" cy="675" r="2.6" fill="#345b72"/><rect x="3293.8" y="675" width="2.4" height="6" fill="#345b72"/><circle cx="3325.8" cy="696" r="13.5" fill="#fff"/><circle cx="3325.8" cy="696" r="11.5" fill="#3a9dbf"/><g transform="translate(3325.8,696)"><path d="M-4.2 0 V-3 A4.2 4.2 0 0 1 4.2 -3 V0" fill="none" stroke="#fff" stroke-width="2.4"/><rect x="-6.5" y="-0.5" width="13" height="9.5" fill="#fff"/><rect x="-0.9" y="2" width="1.8" height="4.5" fill="#3a9dbf"/></g><circle cx="3296" cy="761" r="34" fill="#e3532e"/><path d="M3302.5 775 L3302.5 765 Q3306 761.5 3310.5 761.5 Q3318 762.5 3318.5 775 Z" fill="#fff"/><path d="M3298.5 758.5 Q3299 744 3305.5 744 Q3312.5 744 3312.5 756 Q3312.5 759 3313.5 760.5 Q3307 762 3300 760.5 Z" fill="#fff"/><path d="M3274 777.5 Q3274.5 764.5 3284.5 761.5 L3290.2 759 L3296 761.5 Q3306 764.5 3306.5 777.5 Z" fill="#fff" stroke="#e3532e" stroke-width="1.6"/><ellipse cx="3290.2" cy="749" rx="6.6" ry="7.4" fill="#fff" stroke="#e3532e" stroke-width="1.4"/><rect x="3287.5" y="754" width="5.4" height="6" fill="#fff"/><circle cx="3296" cy="853" r="34" fill="#78b22a"/><g transform="rotate(15 3300 842)"><rect x="3292" y="834" width="17" height="14" fill="none" stroke="#2f546b" stroke-width="2.6"/><line x1="3300" y1="834" x2="3300" y2="848" stroke="#2f546b" stroke-width="2"/><line x1="3292" y1="841" x2="3309" y2="841" stroke="#2f546b" stroke-width="2"/></g><path d="M3280 844 L3284 844 L3290 861 L3307 861 L3312 848 L3284.5 848 Z" fill="#fff"/><polyline points="3294,852 3297,855 3302,850" fill="none" stroke="#2f546b" stroke-width="2"/><path d="M3289 858 L3286 866 L3309 866" fill="none" stroke="#fff" stroke-width="3"/><circle cx="3289" cy="873" r="3.2" fill="#fff"/><circle cx="3306" cy="873" r="3.2" fill="#fff"/><circle cx="3325.8" cy="880" r="13.5" fill="#fff"/><circle cx="3325.8" cy="880" r="11.5" fill="#3a9dbf"/><g transform="translate(3325.8,880)"><path d="M-4.2 0 V-3 A4.2 4.2 0 0 1 4.2 -3 V0" fill="none" stroke="#fff" stroke-width="2.4"/><rect x="-6.5" y="-0.5" width="13" height="9.5" fill="#fff"/><rect x="-0.9" y="2" width="1.8" height="4.5" fill="#3a9dbf"/></g><circle cx="3296" cy="945" r="34" fill="#cfe0e6"/><g fill="#2f546b"><circle cx="3282" cy="928" r="2.5"/><circle cx="3310" cy="928" r="2.5"/><rect x="3281.2" y="928" width="1.6" height="10"/><rect x="3309.2" y="928" width="1.6" height="10"/><rect x="3278.5" y="937" width="7" height="11" rx="3"/><rect x="3306.5" y="937" width="7" height="11" rx="3"/><path d="M3290 964.5 Q3296 970 3302 964.5 Z"/></g><path d="M3277 963 L3283.5 948 Q3284 930 3296 930 Q3308 930 3308.5 948 L3315 963 Z" fill="#1fbce8"/><rect x="3288" y="938" width="16" height="9" rx="4.5" fill="#dbeef3"/><circle cx="3292.3" cy="942.5" r="2.3" fill="#2f546b"/><circle cx="3299.7" cy="942.5" r="2.3" fill="#2f546b"/><circle cx="3325.8" cy="972" r="13.5" fill="#fff"/><circle cx="3325.8" cy="972" r="11.5" fill="#3a9dbf"/><g transform="translate(3325.8,972)"><path d="M-4.2 0 V-3 A4.2 4.2 0 0 1 4.2 -3 V0" fill="none" stroke="#fff" stroke-width="2.4"/><rect x="-6.5" y="-0.5" width="13" height="9.5" fill="#fff"/><rect x="-0.9" y="2" width="1.8" height="4.5" fill="#3a9dbf"/></g><circle cx="3296" cy="1037" r="34" fill="#42a3c4"/><g transform="translate(3296,1037) scale(1.0)"><path d="M-11.25 1 V-6 A11.25 11.25 0 0 1 11.25 -6 V1" fill="none" stroke="#fff" stroke-width="5.5"/><rect x="-17" y="-1" width="34" height="24" fill="#fff"/><circle cx="0" cy="7.5" r="3.6" fill="#42a3c4"/><path d="M-1.8 8 L-2.8 16 L2.8 16 L1.8 8 Z" fill="#42a3c4"/></g><circle cx="3296" cy="1129" r="34" fill="#42a3c4"/><rect x="3283" y="1121" width="35" height="24" fill="none" stroke="#fff" stroke-width="2.6"/><rect x="3272" y="1112.5" width="36.5" height="25" fill="#fff"/><circle cx="3282" cy="1122" r="4" fill="#42a3c4"/><path d="M3275 1133 Q3275 1126 3282 1126 Q3289 1126 3289 1133 Z" fill="#42a3c4"/><circle cx="3298.5" cy="1125.5" r="6.3" fill="none" stroke="#42a3c4" stroke-width="2.4"/><circle cx="3298.5" cy="1125.5" r="2.6" fill="none" stroke="#42a3c4" stroke-width="2"/><rect x="3256.5" y="1092.5" width="51" height="25" rx="12.5" fill="#b86b51" stroke="#fff" stroke-width="2.2"/><text x="3282" y="1111.5" text-anchor="middle" font-family="Liberation Sans" font-weight="700" font-size="17" fill="#fff">CRM</text><g clip-path="url(#p1)"><rect x="3262" y="1187" width="68" height="68" fill="#c3c9d3"/><ellipse cx="3302" cy="1212" rx="7" ry="11" fill="#8f97a3" filter="url(#bl)"/><path d="M3262 1255 L3262 1234 Q3268 1218 3284 1215 Q3298 1218 3305 1232 L3309 1255 Z" fill="#f3f4f6"/><path d="M3285 1217 L3290 1217 L3292 1249 L3287 1251 Z" fill="#1c1c1c"/><rect x="3284.5" y="1208" width="6" height="8" fill="#cf9f86"/><ellipse cx="3287.5" cy="1203" rx="7.2" ry="8.6" fill="#dcae93"/><path d="M3279.5 1201 Q3279 1188.5 3288 1188.5 Q3296.5 1189 3295.5 1199 Q3292 1193.5 3280.5 1196 Z" fill="#2a221e"/><g fill="none" stroke="#151515" stroke-width="1.4"><rect x="3280.5" y="1199.5" width="6" height="4" rx="1"/><rect x="3288.5" y="1199.5" width="6" height="4" rx="1"/></g><path d="M3303 1225 L3331 1222 L3331 1250 L3298 1252 Z" fill="#a6abb2"/><path d="M3288 1246 Q3300 1240 3316 1244 L3318 1253 L3288 1253 Z" fill="#c08868"/></g><circle cx="3296" cy="1313" r="34" fill="#45a884"/><g transform="translate(3296,1313) scale(1.0)"><path d="M-11.25 1 V-6 A11.25 11.25 0 0 1 11.25 -6 V1" fill="none" stroke="#fff" stroke-width="5.5"/><rect x="-17" y="-1" width="34" height="24" fill="#fff"/><circle cx="0" cy="7.5" r="3.6" fill="#45a884"/><path d="M-1.8 8 L-2.8 16 L2.8 16 L1.8 8 Z" fill="#45a884"/></g><circle cx="3296" cy="1405" r="34" fill="#5fa22d"/><rect x="3283" y="1397" width="35" height="24" fill="none" stroke="#fff" stroke-width="2.6"/><rect x="3272" y="1388.5" width="36.5" height="25" fill="#fff"/><circle cx="3282" cy="1398" r="4" fill="#5fa22d"/><path d="M3275 1409 Q3275 1402 3282 1402 Q3289 1402 3289 1409 Z" fill="#5fa22d"/><circle cx="3298.5" cy="1401.5" r="6.3" fill="none" stroke="#5fa22d" stroke-width="2.4"/><circle cx="3298.5" cy="1401.5" r="2.6" fill="none" stroke="#5fa22d" stroke-width="2"/><rect x="3256.5" y="1368.5" width="51" height="25" rx="12.5" fill="#b86b51" stroke="#fff" stroke-width="2.2"/><text x="3282" y="1387.5" text-anchor="middle" font-family="Liberation Sans" font-weight="700" font-size="17" fill="#fff">CRM</text><g clip-path="url(#p2)"><rect x="3262" y="1463" width="68" height="68" fill="#e6e8ea"/><path d="M3275 1531 L3276 1488 Q3277 1466 3292 1466 Q3307 1466 3309 1488 L3312 1531 Z" fill="#3b2d26"/><ellipse cx="3291" cy="1494" rx="10" ry="12.5" fill="#e3b49c"/><path d="M3264 1531 Q3268 1516 3280 1512 L3300 1512 Q3310 1514 3314 1531 Z" fill="#161616"/><path d="M3281 1511 L3292 1531 L3299 1511 Z" fill="#f4f4f4"/><path d="M3300 1500 L3304 1531 L3310 1531 L3308 1500 Z" fill="#3b2d26"/><rect x="3307" y="1517" width="25" height="14" fill="#e8e6f2"/></g><g clip-path="url(#p3)"><rect x="3262" y="1555" width="68" height="68" fill="#d9e6ee"/><rect x="3314" y="1570" width="12" height="50" fill="#2a3040" opacity="0.6" filter="url(#bl)"/><path d="M3276 1602 Q3272 1568 3294 1566 Q3316 1567 3311 1602 Z" fill="#5b3424"/><ellipse cx="3295" cy="1584" rx="9" ry="11" fill="#eec2a8"/><path d="M3264 1623 Q3268 1602 3290 1599 Q3314 1602 3324 1623 Z" fill="#181818"/><path d="M3287 1600 L3296 1612 L3304 1600 Z" fill="#f6f6f6"/><path d="M3284 1605 L3315 1605 L3312 1623 L3287 1623 Z" fill="#f2f5f7"/></g><rect x="3230" y="1632" width="130" height="2" fill="#d9e0e4"/><circle cx="3296" cy="1688" r="34" fill="#6ccfdf"/><rect x="3284.5" y="1670" width="22.5" height="36.2" rx="2.6" fill="#fff"/><rect x="3288" y="1673.3" width="15.5" height="25.5" fill="#6ccfdf"/><circle cx="3295.8" cy="1702.6" r="2" fill="#6ccfdf"/><path d="M3298 1695 A5.2 5.2 0 0 1 3297 1684.8 A6.8 6.8 0 0 1 3310 1683 A5.8 5.8 0 0 1 3316.5 1689.5 A5.5 5.5 0 0 1 3311 1695 Z" fill="#fff" stroke="#6ccfdf" stroke-width="1.2"/><circle cx="3296" cy="1800" r="34" fill="#89ca2f"/><path d="M3312.5 1785 Q3314.5 1789 3312.5 1793 L3304.5 1796.5 L3300 1793 Q3292 1798.5 3287.5 1806 L3290 1811 L3286.5 1818.5 Q3280.5 1819.5 3279 1813 Q3278 1802 3288 1793.5 Q3297 1785.5 3306.5 1784 Q3310.5 1783.5 3312.5 1785 Z" fill="#fff"/></svg>
</body></html>
